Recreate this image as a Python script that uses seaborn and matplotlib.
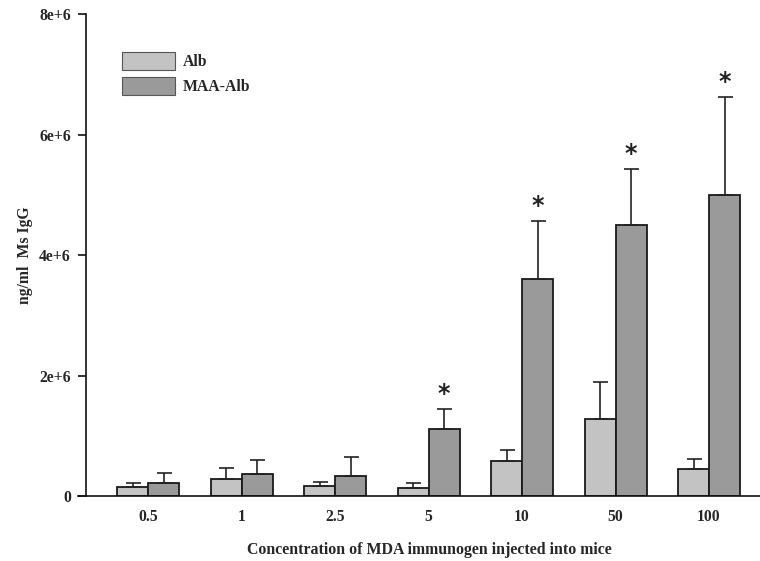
import numpy as np
import pandas as pd
import matplotlib
import matplotlib.pyplot as plt
from matplotlib.patches import Patch
import seaborn as sns

matplotlib.use("Agg")

# 数据
doses = ["0.5", "1", "2.5", "5", "10", "50", "100"]
alb_mean = [0.155e6, 0.28e6, 0.16e6, 0.14e6, 0.585e6, 1.28e6, 0.44e6]
alb_err = [0.065e6, 0.18e6, 0.08e6, 0.075e6, 0.175e6, 0.61e6, 0.17e6]
maa_mean = [0.21e6, 0.365e6, 0.33e6, 1.11e6, 3.6e6, 4.5e6, 5.0e6]
maa_err = [0.18e6, 0.225e6, 0.32e6, 0.33e6, 0.96e6, 0.93e6, 1.62e6]
signif = [False, False, False, True, True, True, True]
groups = ["Alb", "MAA-Alb"]
colors = ["#c3c3c3", "#9a9a9a"]
yticks = [0, 2e6, 4e6, 6e6, 8e6]
ytick_labels = ["0", "2e+6", "4e+6", "6e+6", "8e+6"]

df = pd.DataFrame({
    "dose": doses * 2,
    "group": [groups[0]] * len(doses) + [groups[1]] * len(doses),
    "value": alb_mean + maa_mean,
})

sns.set_style("ticks")
plt.rcParams["font.family"] = ["Liberation Serif", "DejaVu Serif"]
plt.rcParams["font.weight"] = "bold"

fig = plt.figure(figsize=(7.6, 5.61), dpi=100)
ax = fig.add_axes([78 / 760, 65 / 561, 682 / 760, 482 / 561])

sns.barplot(
    data=df, x="dose", y="value", hue="group", order=doses, hue_order=groups,
    palette=colors, width=0.663, errorbar=None, legend=False,
    edgecolor="#1a1a1a", linewidth=1.3, saturation=1, ax=ax,
)

# 误差线（只画上半部分）
bars = ax.patches
all_err = alb_err + maa_err
for bar, err in zip(bars, all_err):
    xc = bar.get_x() + bar.get_width() / 2
    h = bar.get_height()
    ax.errorbar(xc, h, yerr=[[0], [err]], fmt="none", ecolor="#222222",
                elinewidth=1.2, capsize=5.4, capthick=1.2, zorder=1)

# 显著性星号
maa_bars = bars[len(doses):]
for bar, err, s in zip(maa_bars, maa_err, signif):
    if s:
        xc = bar.get_x() + bar.get_width() / 2
        ax.annotate("*", (xc, bar.get_height() + err), xytext=(0, 2),
                    textcoords="offset points", ha="center", va="bottom",
                    fontsize=17, fontweight="bold", family="DejaVu Sans",
                    color="#222222")

ax.set_xlim(-0.749, 6.545)
ax.set_ylim(0, 8e6)
ax.set_yticks(yticks)
ax.set_yticklabels(ytick_labels)
ax.spines["left"].set_position(("data", -0.663))
sns.despine(ax=ax)
for sp in ["left", "bottom"]:
    ax.spines[sp].set_linewidth(1.2)
    ax.spines[sp].set_color("#111111")
ax.tick_params(axis="y", length=6, width=1.2, pad=5, labelsize=11.3, color="#111111")
ax.tick_params(axis="x", length=0, pad=9.5, labelsize=11.3)
for lab in ax.get_xticklabels() + ax.get_yticklabels():
    lab.set_fontweight("bold")

ax.set_xlabel("Concentration of MDA immunogen injected into mice",
              fontsize=11.4, fontweight="bold")
ax.xaxis.set_label_coords(0.515, -0.095)
ax.set_ylabel("ng/ml  Ms IgG", fontsize=11.3, fontweight="bold", labelpad=4)

handles = [Patch(facecolor=c, edgecolor="#555555", linewidth=0.8) for c in colors]
ax.legend(handles, groups, loc="upper left", bbox_to_anchor=(0.0645, 0.922),
          frameon=False, borderpad=0, borderaxespad=0, handlelength=3.4,
          handleheight=1.45, labelspacing=0.4, handletextpad=0.5,
          prop={"size": 11.3, "weight": "bold"})

fig.savefig("out.png", dpi=100)
